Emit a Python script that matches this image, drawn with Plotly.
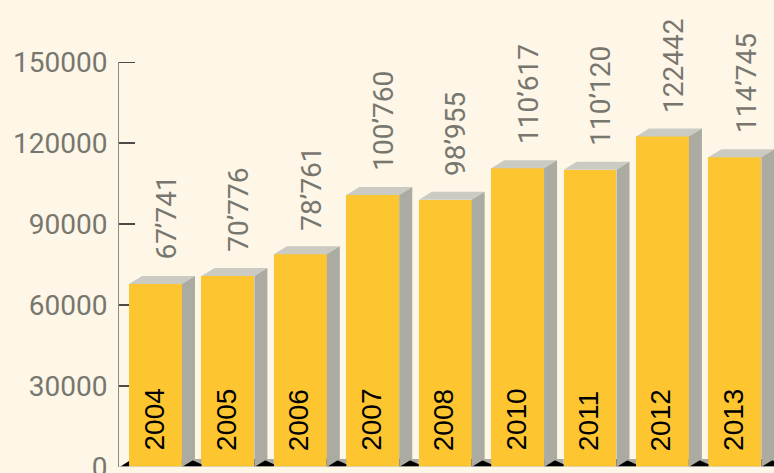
import plotly.graph_objects as go

years = ["2004", "2005", "2006", "2007", "2008", "2010", "2011", "2012", "2013"]
values = [67741, 70776, 78761, 100760, 98955, 110617, 110120, 122442, 114745]
value_labels = ["67’741", "70’776", "78’761", "100’760", "98’955",
                "110’617", "110’120", "122442", "114’745"]
y_ticks = [0, 30000, 60000, 90000, 120000, 150000]

BG = "#FEF6E6"
YELLOW = "#FDC631"
TOP = "#CBCBC3"
SIDE = "#ABABA1"
GRAY_TXT = "#77776F"

BAR_W = 0.73
DX = 0.18
DY = 2960
X_MIN, X_MAX = -0.504, 8.54
PLOT_W = 774 - 119
TICK_LEN = 16

xs = list(range(len(years)))

fig = go.Figure()
fig.add_trace(go.Bar(x=xs, y=values, width=BAR_W, marker=dict(color=YELLOW, line=dict(width=0)),
                     hoverinfo="skip"))

shapes = []
def path(pts):
    return "M " + " L ".join(f"{x},{y}" for x, y in pts) + " Z"

# tick marks (drawn under the bars)
for t in y_ticks[1:]:
    shapes.append(dict(type="line", xref="paper", yref="y", layer="below",
                       x0=0, x1=TICK_LEN / PLOT_W, y0=t, y1=t,
                       line=dict(color="#111111", width=1.5)))

for i, v in zip(xs, values):
    xl = i - BAR_W / 2
    xr = i + BAR_W / 2
    xn = i + 1 - BAR_W / 2
    # floor shadow
    shapes.append(dict(type="path", xref="x", yref="y", layer="above", line=dict(width=0),
                       fillcolor=SIDE, path=path([(xr, 0), (xr, DY), (xn, DY), (xn, 0)])))
    shapes.append(dict(type="path", xref="x", yref="y", layer="above", line=dict(width=0),
                       fillcolor="#000000",
                       path=path([(xr, 0), (xr, DY), (xr + 0.11, DY), (xn, DY * 0.35), (xn, 0)])))
    # top face
    shapes.append(dict(type="path", xref="x", yref="y", layer="above", line=dict(width=0),
                       fillcolor=TOP,
                       path=path([(xl, v), (xl + DX, v + DY), (xr + DX, v + DY), (xr, v)])))
    # side face
    shapes.append(dict(type="path", xref="x", yref="y", layer="above", line=dict(width=0),
                       fillcolor=SIDE,
                       path=path([(xr, v), (xr + DX, v + DY), (xr + DX, DY), (xr, 0)])))

# origin shadow
x0l = xs[0] - BAR_W / 2
shapes.append(dict(type="path", xref="x", yref="y", layer="above", line=dict(width=0),
                   fillcolor="#000000",
                   path=path([(X_MIN + 0.01, 0), (x0l, DY * 0.75), (x0l, 0)])))
# floor line
shapes.append(dict(type="line", xref="x", yref="y", layer="above", x0=X_MIN, x1=X_MAX, y0=0, y1=0,
                   line=dict(color="#D6D4CA", width=1.5)))

annotations = []
for i, v, yl, vl in zip(xs, values, years, value_labels):
    annotations.append(dict(x=i, y=0, xref="x", yref="y", text=yl, showarrow=False,
                            textangle=-90, yanchor="bottom", xanchor="center", yshift=14, xshift=-2,
                            font=dict(family="Liberation Sans, Arial", size=28, color="#000000")))
    annotations.append(dict(x=i, y=v, xref="x", yref="y", text=vl, showarrow=False,
                            textangle=-90, yanchor="bottom", xanchor="center", yshift=22, xshift=11,
                            font=dict(family="Roboto", size=28, color=GRAY_TXT)))

fig.update_layout(
    width=774, height=473,
    margin=dict(l=119, r=0, t=62, b=6, autoexpand=False),
    paper_bgcolor=BG, plot_bgcolor=BG,
    showlegend=False,
    bargap=0,
    shapes=shapes,
    annotations=annotations,
    xaxis=dict(range=[X_MIN, X_MAX], showticklabels=False, showgrid=False, zeroline=False,
               showline=False, ticks="", automargin=False),
    yaxis=dict(range=[0, 150000], tickvals=y_ticks, ticktext=[str(t) for t in y_ticks],
               showgrid=False, zeroline=False, showline=True, linecolor="#8C8C86", linewidth=1,
               ticks="", layer="above traces", ticklabelstandoff=5, automargin=False,
               ticklabeloverflow="allow",
               tickfont=dict(family="Roboto", size=28, color=GRAY_TXT)),
)

fig.write_html("out.html", config={"displayModeBar": False},
               post_script="document.body.style.margin='0';document.body.style.padding='0';"
                           "document.body.style.overflow='hidden';"
                           "document.body.style.background='" + BG + "';")
